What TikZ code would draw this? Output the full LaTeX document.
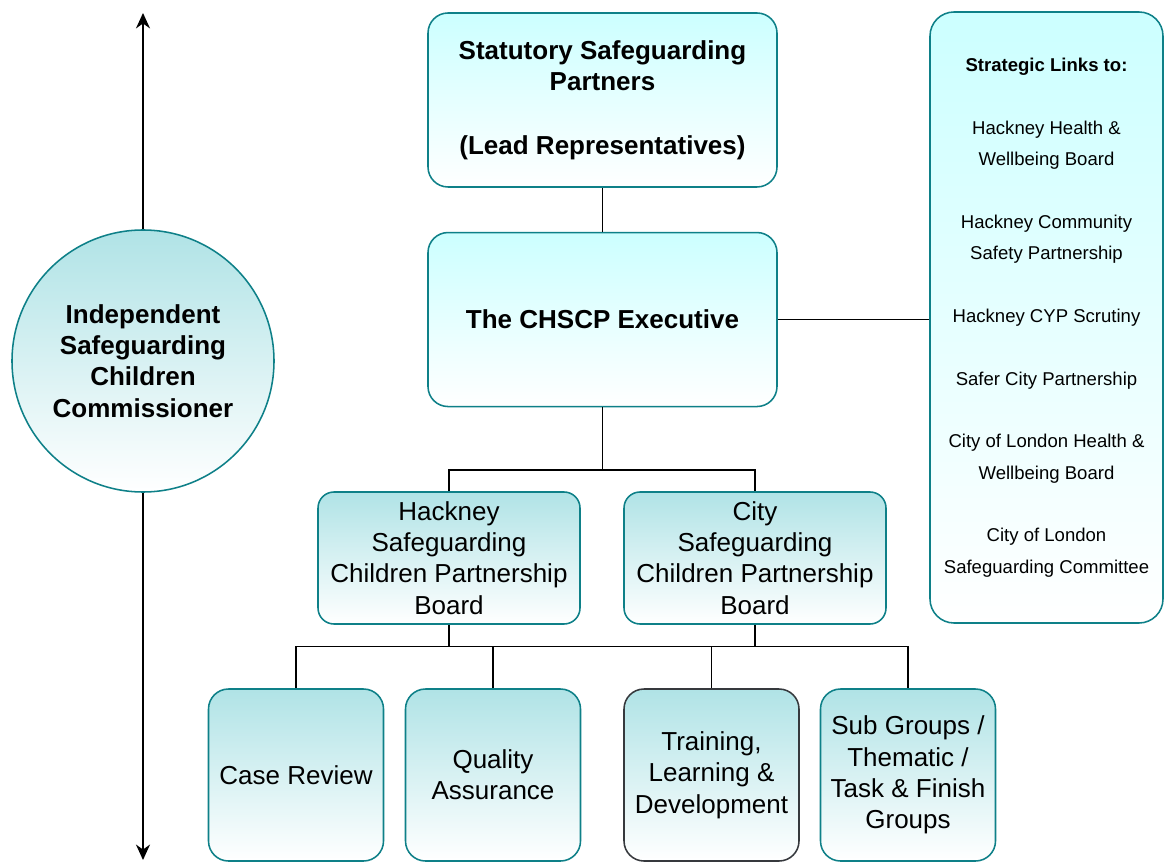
\documentclass[tikz,border=0pt]{standalone}
\usepackage{fontspec}
\setmainfont{Liberation Sans}
\usetikzlibrary{arrows.meta, positioning}

\definecolor{cyantop}{HTML}{CCFFFF}
\definecolor{tealtop}{HTML}{B0E3E6}
\definecolor{tealline}{HTML}{0E8088}
\definecolor{darkline}{HTML}{36393D}

\begin{document}
\begin{tikzpicture}[
  lead/.style={draw=tealline, line width=1.1pt, top color=cyantop, bottom color=white,
               rounded corners=0.5cm, minimum width=8.725cm, minimum height=4.35cm,
               inner sep=2pt, align=center, font=\fontsize{18.5}{22.5}\selectfont\bfseries},
  board/.style={draw=tealline, line width=1.1pt, top color=tealtop, bottom color=white,
                rounded corners=0.4cm, minimum width=6.55cm, minimum height=3.3cm,
                inner sep=2pt, align=center, font=\fontsize{18.5}{22.3}\selectfont},
  group/.style={board, rounded corners=0.5cm, minimum width=4.375cm, minimum height=4.3cm},
  linkbox/.style={draw=tealline, line width=1.1pt, top color=cyantop, bottom color=white,
                  rounded corners=0.6cm, minimum width=5.825cm, minimum height=15.275cm,
                  inner sep=2pt, align=center, font=\fontsize{13.2}{22.3}\selectfont},
  comm/.style={circle, draw=tealline, line width=1.1pt, top color=tealtop, bottom color=white,
               minimum size=6.55cm, inner sep=0pt, align=center,
               font=\fontsize{18.5}{22.3}\selectfont\bfseries},
  conn/.style={black, line width=1pt},
  twoway/.style={conn, -{Stealth[length=11pt, width=10pt]}},
]
\useasboundingbox (0,0) rectangle (29.125,-21.575);

%% ---- commissioner, with the two-way arrow ----
\node[comm] (isc) at (3.575,-9.025) {Independent\\Safeguarding\\Children\\Commissioner};
\coordinate (uptip) at (3.575,-0.325);
\coordinate (downtip) at (3.575,-21.5);
\draw[twoway] (isc.north) -- (uptip);
\draw[twoway] (isc.south) -- (downtip);

%% ---- partners and executive ----
\node[lead] (ssp) at (15.0625,-2.5) {Statutory Safeguarding\\Partners\\[22.5pt](Lead Representatives)};
\node[lead, below=1.1cm of ssp] (exec) {The CHSCP Executive};
\draw[conn] (ssp.south) -- (exec.north);

%% ---- strategic links ----
\node[linkbox] (links) at (26.1625,-7.9375) {%
  \textbf{Strategic Links to:}\\[22.3pt]
  Hackney Health \&\\Wellbeing Board\\[22.3pt]
  Hackney Community\\Safety Partnership\\[22.3pt]
  Hackney CYP Scrutiny\\[22.3pt]
  Safer City Partnership\\[22.3pt]
  City of London Health \&\\Wellbeing Board\\[22.3pt]
  City of London\\Safeguarding Committee};
\draw[conn] (exec.east) -- (exec.east -| links.west);

%% ---- partnership boards ----
\node[board] (hscp) at (11.225,-13.95) {Hackney\\Safeguarding\\Children Partnership\\Board};
\node[board] (cscp) at (18.875,-13.95) {City\\Safeguarding\\Children Partnership\\Board};

\coordinate (barhi) at (0,-11.75);
\draw[conn] (hscp.north) |- (cscp.north |- barhi) -- (cscp.north);
\draw[conn] (exec.south) -- (exec.south |- barhi);

%% ---- working groups ----
\node[group] (cr)  at (7.4,-19.375)    {Case Review};
\node[group] (qa)  at (12.325,-19.375) {Quality\\Assurance};
\node[group, draw=darkline] (tld) at (17.7875,-19.375) {Training,\\Learning \&\\Development};
\node[group] (sub) at (22.7,-19.375)   {Sub Groups /\\Thematic /\\Task \& Finish\\Groups};

\coordinate (barlo) at (0,-16.16);
\draw[conn] (cr.north) |- (sub.north |- barlo) -- (sub.north);
\draw[conn] (hscp.south) -- (hscp.south |- barlo);
\draw[conn] (cscp.south) -- (cscp.south |- barlo);
\draw[conn] (qa.north) -- (qa.north |- barlo);
\draw[conn] (tld.north) -- (tld.north |- barlo);

\end{tikzpicture}
\end{document}
